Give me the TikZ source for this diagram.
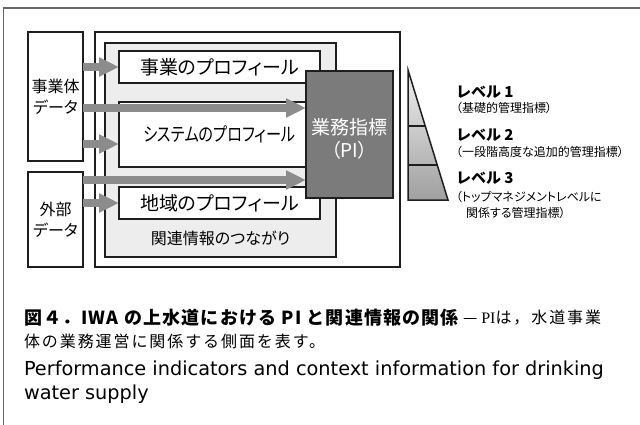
\documentclass[tikz,border=0pt]{standalone}
\usepackage{fontspec}
\setmainfont{Liberation Serif}
\newfontfamily\jp[RawFeature={+palt}]{Noto Sans CJK JP}
\newfontfamily\jpw{Noto Sans CJK JP}
\newfontfamily\jpm[LetterSpace=12]{Noto Sans CJK JP}
\newfontfamily\jpb[LetterSpace=6.5]{Noto Sans CJK JP}
\newfontfamily\enf{DejaVu Sans}
\newfontfamily\lserif{Liberation Serif}
\usetikzlibrary{arrows.meta}
\definecolor{framegray}{HTML}{666666}
\definecolor{ctxgray}{HTML}{EDEDED}
\definecolor{arrowgray}{HTML}{8C8C8C}
\definecolor{pigray}{HTML}{7B7B7B}
\definecolor{edge}{HTML}{1E1E1E}
\newcommand{\myfs}[1]{\fontsize{#1}{#1}\selectfont}
\begin{document}
\begin{tikzpicture}[x=1pt,y=-1pt,
  boxline/.style={draw=edge,line width=1.5pt},
  rbox/.style={boxline,fill=white,anchor=north west,inner sep=0pt,outer sep=0pt},
  txt/.style={inner sep=0pt,outer sep=0pt},
  flow/.style={draw=arrowgray,line width=7.5pt,-{Triangle[length=20pt,width=18pt]}}
]
\useasboundingbox (0,0) rectangle (640,425);
\fill[white] (0,0) rectangle (640,425);
\draw[framegray,line width=1.3pt] (3.5,425) -- (3.5,8) -- (640,8);

% source boxes
\node[rbox,minimum width=55pt,minimum height=129pt,align=center,font=\jp\fontsize{16}{21}\selectfont] (src1) at (28,32) {事業体\\データ};
\node[rbox,minimum width=55pt,minimum height=95pt,align=center,font=\jp\fontsize{16}{21}\selectfont] (src2) at (28,172) {外部\\データ};

% context frame
\node[rbox,minimum width=305pt,minimum height=235pt] (ctx) at (95,32) {};
\node[rbox,fill=ctxgray,minimum width=231pt,minimum height=214pt] (link) at (105,43) {};
\node[txt,font=\jp\myfs{16}] (linkt) at ([yshift=19pt]link.south) {関連情報のつながり};

% profiles
\node[rbox,minimum width=201pt,minimum height=32pt,font=\jp\myfs{19}] (p1) at (119,51) {事業のプロフィール};
\node[rbox,minimum width=201pt,minimum height=65pt,font=\jp\myfs{19}] (p2) at (119,102) {\scalebox{0.8}[1]{システムのプロフィール}};
\node[rbox,minimum width=201pt,minimum height=32pt,font=\jp\myfs{19}] (p3) at (119,187) {地域のプロフィール};

% PI box
\node[rbox,fill=pigray,minimum width=87pt,minimum height=127pt] (pi) at (306,71) {};
\node[txt,text=white,align=center,font=\jp\fontsize{19}{23}\selectfont] (pit) at ([yshift=-4pt]pi.center) {業務指標\\（PI）};

% arrows
\coordinate (r2) at (0,108);
\coordinate (r3) at (0,144);
\coordinate (r4) at (0,180);
\draw[flow] (src1.east |- p1.west) -- (p1.west);
\draw[flow] (src1.east |- r2) -- (pi.west |- r2);
\draw[flow] (src1.east |- r3) -- (p2.west |- r3);
\draw[flow] (src2.east |- r4) -- (pi.west |- r4);
\draw[flow] (src2.east |- p3.west) -- (p3.west);

% pyramid
\coordinate (tA) at (408,70);
\coordinate (tB) at (408,200);
\coordinate (tC) at (448,200);
\shade[top color=gray!12, bottom color=gray!75] (tA) -- (tB) -- (tC) -- cycle;
\draw[boxline,line join=miter] (tA) -- (tB) -- (tC) -- cycle;
\draw[boxline] (408,126) -- (425.2,126);
\draw[boxline] (408,165) -- (437.2,165);

% levels
\node[txt,anchor=west,font=\jpw\bfseries\myfs{15}] (l1) at (456,92) {レベル 1};
\node[txt,anchor=west,font=\jp\myfs{12}] (l1d) at (456,108) {（基礎的管理指標）};
\node[txt,anchor=west,font=\jpw\bfseries\myfs{15}] (l2) at (456,135) {レベル 2};
\node[txt,anchor=west,font=\jp\myfs{12}] (l2d) at (456,152) {（一段階高度な追加的管理指標）};
\node[txt,anchor=west,font=\jpw\bfseries\myfs{15}] (l3) at (456,178) {レベル 3};
\node[txt,anchor=west,font=\jp\myfs{12}] (l3d) at (456,197) {（トップマネジメントレベルに};
\node[txt,anchor=west,font=\jp\myfs{12}] (l3e) at (466,213) {関係する管理指標）};

% caption
\node[txt,anchor=west,font=\jpb\bfseries\myfs{18}] (cap1) at (24,318) {図４．IWA の上水道における PI と関連情報の関係};
\node[txt,anchor=west,font=\jpm\myfs{16}] (cap1b) at (463,318) {—\hspace{4pt}{\lserif PI}は，水道事業};
\node[txt,anchor=west,font=\jpm\myfs{16}] (cap2) at (24,341) {体の業務運営に関係する側面を表す。};
\node[txt,anchor=west,font=\enf\myfs{19.3}] (cap3) at (24,370) {Performance indicators and context information for drinking};
\node[txt,anchor=west,font=\enf\myfs{19.3}] (cap4) at (24,394) {water supply};
\end{tikzpicture}
\end{document}
